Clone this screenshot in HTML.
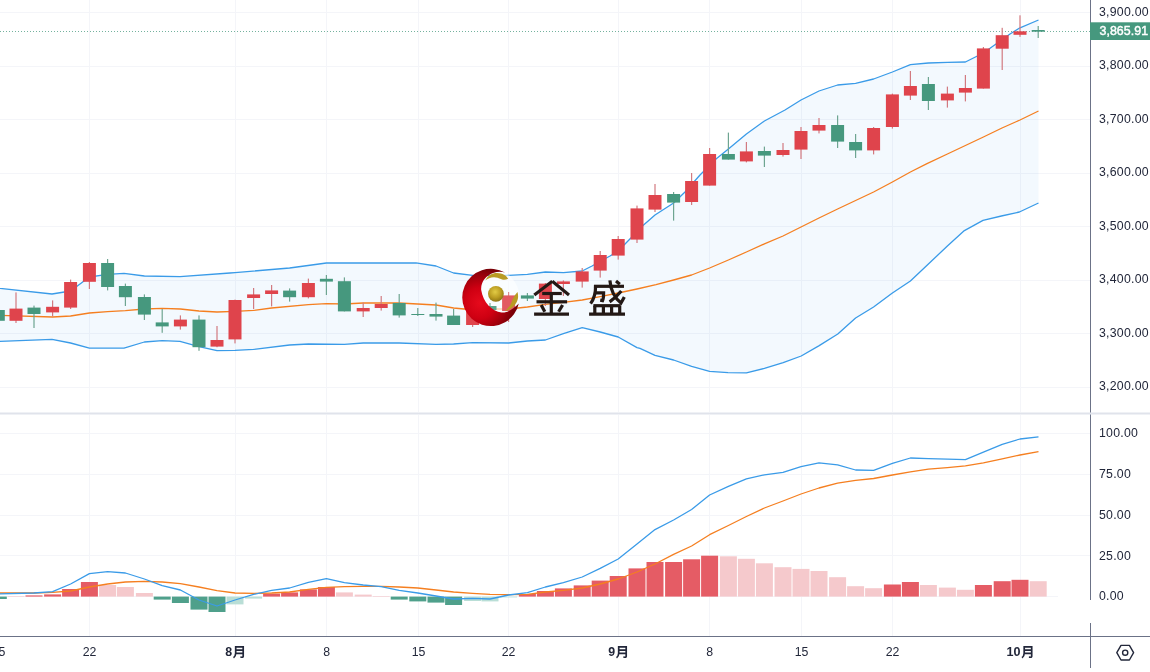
<!DOCTYPE html>
<html><head><meta charset="utf-8"><title>chart</title>
<style>
html,body{margin:0;padding:0;background:#fff}
body{width:1150px;height:672px;overflow:hidden;position:relative;font-family:"Liberation Sans",sans-serif}
svg{position:absolute;left:0;top:0;display:block;will-change:transform}
text{font-family:"Liberation Sans",sans-serif}
.t{}
</style></head><body>
<svg width="1150" height="672" viewBox="0 0 1150 672">
<rect width="1150" height="672" fill="#ffffff"/>

<g stroke="#f4f5f9" stroke-width="1" shape-rendering="crispEdges">
<line x1="0" y1="12.5" x2="1090" y2="12.5"/>
<line x1="0" y1="66.5" x2="1090" y2="66.5"/>
<line x1="0" y1="119.5" x2="1090" y2="119.5"/>
<line x1="0" y1="173.5" x2="1090" y2="173.5"/>
<line x1="0" y1="226.5" x2="1090" y2="226.5"/>
<line x1="0" y1="280.5" x2="1090" y2="280.5"/>
<line x1="0" y1="333.5" x2="1090" y2="333.5"/>
<line x1="0" y1="387.5" x2="1090" y2="387.5"/>
<line x1="0" y1="433.5" x2="1090" y2="433.5"/>
<line x1="0" y1="474.5" x2="1090" y2="474.5"/>
<line x1="0" y1="515.5" x2="1090" y2="515.5"/>
<line x1="0" y1="555.5" x2="1090" y2="555.5"/>
<line x1="0" y1="596.5" x2="1058" y2="596.5"/>
<line x1="89.5" y1="0" x2="89.5" y2="412"/><line x1="89.5" y1="415" x2="89.5" y2="636"/>
<line x1="235.5" y1="0" x2="235.5" y2="412"/><line x1="235.5" y1="415" x2="235.5" y2="636"/>
<line x1="326.5" y1="0" x2="326.5" y2="412"/><line x1="326.5" y1="415" x2="326.5" y2="636"/>
<line x1="418.5" y1="0" x2="418.5" y2="412"/><line x1="418.5" y1="415" x2="418.5" y2="636"/>
<line x1="508.5" y1="0" x2="508.5" y2="412"/><line x1="508.5" y1="415" x2="508.5" y2="636"/>
<line x1="618.5" y1="0" x2="618.5" y2="412"/><line x1="618.5" y1="415" x2="618.5" y2="636"/>
<line x1="709.5" y1="0" x2="709.5" y2="412"/><line x1="709.5" y1="415" x2="709.5" y2="636"/>
<line x1="801.5" y1="0" x2="801.5" y2="412"/><line x1="801.5" y1="415" x2="801.5" y2="636"/>
<line x1="892.5" y1="0" x2="892.5" y2="412"/><line x1="892.5" y1="415" x2="892.5" y2="636"/>
<line x1="1020.5" y1="0" x2="1020.5" y2="412"/><line x1="1020.5" y1="415" x2="1020.5" y2="636"/>
</g>
<polygon points="-2.0,288.0 0.0,288.4 52.0,294.0 70.6,291.0 89.4,277.0 107.6,274.4 124.0,273.4 144.4,276.0 180.0,276.6 230.0,273.0 235.0,272.6 289.6,268.0 326.4,263.0 416.0,262.8 436.0,266.0 453.6,273.0 472.6,275.4 508.6,275.4 527.4,274.4 545.4,272.0 563.4,272.6 582.2,271.0 592.0,266.0 610.0,256.0 618.2,251.0 626.0,243.0 643.0,225.6 655.0,215.0 673.6,203.0 685.0,192.0 700.0,175.0 716.0,159.0 728.4,149.0 746.4,134.0 764.4,121.0 785.0,110.0 801.0,100.0 819.0,91.0 837.6,85.0 855.6,83.4 873.6,79.0 892.4,72.0 910.4,64.6 928.4,63.0 947.4,62.4 965.4,62.0 983.4,53.0 996.0,44.0 1010.0,34.0 1020.0,27.8 1038.5,20.0 1038.5,203.0 1019.4,212.0 1001.4,216.0 983.0,220.4 964.4,230.6 947.4,246.0 928.4,264.0 910.4,281.0 892.4,293.0 873.6,307.0 855.6,318.0 837.8,334.0 819.2,345.6 801.2,356.0 783.2,362.6 764.4,368.4 746.4,372.8 728.0,372.6 709.6,371.4 691.6,366.4 673.6,360.0 655.0,355.4 640.0,348.4 637.0,347.6 618.2,337.0 600.2,332.0 582.2,327.6 563.4,333.6 545.4,340.0 527.4,341.0 508.6,343.0 472.6,342.6 453.6,344.0 436.0,344.4 399.2,343.0 363.2,343.0 344.4,344.4 308.4,344.0 289.6,345.0 253.6,349.4 235.0,350.4 217.0,350.6 199.0,346.6 180.0,341.4 162.2,340.6 144.4,342.0 124.0,348.2 89.4,348.2 70.6,343.0 52.0,339.4 0.0,341.4 -2.0,341.6" fill="#2196f3" fill-opacity="0.055"/>
<polyline points="-2.0,315.4 0.0,315.4 52.6,317.0 70.6,316.0 89.4,313.0 107.6,311.6 125.4,310.6 144.4,309.0 162.2,308.4 180.4,309.0 199.0,311.0 217.0,312.0 235.0,311.4 253.6,310.4 271.6,308.0 308.4,304.6 326.4,303.6 344.4,304.0 363.2,303.0 399.2,303.0 436.0,305.0 453.6,308.0 464.0,309.0 508.6,309.0 527.4,307.0 545.4,304.4 563.4,302.4 582.2,300.0 600.2,296.6 618.2,293.0 637.0,289.0 656.0,284.6 673.6,280.0 691.6,275.0 709.6,268.0 728.4,260.0 746.4,252.0 765.0,243.6 783.0,236.0 801.0,227.0 819.0,218.0 837.6,209.0 855.6,200.5 873.6,192.0 892.4,182.0 910.4,172.0 927.0,163.6 947.4,154.0 965.4,145.5 983.4,137.0 1002.0,128.0 1020.0,120.0 1038.5,111.0" fill="none" stroke="#f57f20" stroke-width="1.3" stroke-linejoin="round"/>
<polyline points="-2.0,288.0 0.0,288.4 52.0,294.0 70.6,291.0 89.4,277.0 107.6,274.4 124.0,273.4 144.4,276.0 180.0,276.6 230.0,273.0 235.0,272.6 289.6,268.0 326.4,263.0 416.0,262.8 436.0,266.0 453.6,273.0 472.6,275.4 508.6,275.4 527.4,274.4 545.4,272.0 563.4,272.6 582.2,271.0 592.0,266.0 610.0,256.0 618.2,251.0 626.0,243.0 643.0,225.6 655.0,215.0 673.6,203.0 685.0,192.0 700.0,175.0 716.0,159.0 728.4,149.0 746.4,134.0 764.4,121.0 785.0,110.0 801.0,100.0 819.0,91.0 837.6,85.0 855.6,83.4 873.6,79.0 892.4,72.0 910.4,64.6 928.4,63.0 947.4,62.4 965.4,62.0 983.4,53.0 996.0,44.0 1010.0,34.0 1020.0,27.8 1038.5,20.0" fill="none" stroke="#3a9be8" stroke-width="1.3" stroke-linejoin="round"/>
<polyline points="-2.0,341.6 0.0,341.4 52.0,339.4 70.6,343.0 89.4,348.2 124.0,348.2 144.4,342.0 162.2,340.6 180.0,341.4 199.0,346.6 217.0,350.6 235.0,350.4 253.6,349.4 289.6,345.0 308.4,344.0 344.4,344.4 363.2,343.0 399.2,343.0 436.0,344.4 453.6,344.0 472.6,342.6 508.6,343.0 527.4,341.0 545.4,340.0 563.4,333.6 582.2,327.6 600.2,332.0 618.2,337.0 637.0,347.6 640.0,348.4 655.0,355.4 673.6,360.0 691.6,366.4 709.6,371.4 728.0,372.6 746.4,372.8 764.4,368.4 783.2,362.6 801.2,356.0 819.2,345.6 837.8,334.0 855.6,318.0 873.6,307.0 892.4,293.0 910.4,281.0 928.4,264.0 947.4,246.0 964.4,230.6 983.0,220.4 1001.4,216.0 1019.4,212.0 1038.5,203.0" fill="none" stroke="#3a9be8" stroke-width="1.3" stroke-linejoin="round"/>
<line x1="0" y1="31.5" x2="1090" y2="31.5" stroke="#46987e" stroke-opacity="0.75" stroke-width="1" stroke-dasharray="1 2" shape-rendering="crispEdges"/>
<clipPath id="oc0"><circle cx="491" cy="297.6" r="28.6"/></clipPath><ellipse cx="502" cy="292" rx="21" ry="20.5" fill="#fff" fill-opacity="0.6" clip-path="url(#oc0)"/>
<g>
<rect x="-2.3" y="309.0" width="1.2" height="12.0" fill="#6ea591"/>
<rect x="-8.2" y="310.0" width="13" height="10.8" fill="#46987e"/>
<rect x="15.4" y="292.4" width="1.2" height="30.6" fill="#d27a80"/>
<rect x="9.5" y="308.6" width="13" height="12.2" fill="#df444c"/>
<rect x="33.4" y="305.6" width="1.2" height="22.4" fill="#6ea591"/>
<rect x="27.5" y="307.6" width="13" height="6.4" fill="#46987e"/>
<rect x="52.0" y="300.4" width="1.2" height="16.0" fill="#d27a80"/>
<rect x="46.1" y="306.8" width="13" height="5.6" fill="#df444c"/>
<rect x="70.0" y="279.6" width="1.2" height="29.4" fill="#d27a80"/>
<rect x="64.1" y="282.0" width="13" height="25.6" fill="#df444c"/>
<rect x="88.8" y="262.0" width="1.2" height="27.0" fill="#d27a80"/>
<rect x="82.9" y="263.0" width="13" height="18.8" fill="#df444c"/>
<rect x="107.0" y="259.0" width="1.2" height="31.4" fill="#6ea591"/>
<rect x="101.1" y="263.0" width="13" height="24.0" fill="#46987e"/>
<rect x="124.8" y="283.6" width="1.2" height="22.4" fill="#6ea591"/>
<rect x="118.9" y="286.0" width="13" height="11.2" fill="#46987e"/>
<rect x="143.8" y="294.4" width="1.2" height="25.6" fill="#6ea591"/>
<rect x="137.9" y="297.0" width="13" height="17.6" fill="#46987e"/>
<rect x="161.6" y="309.0" width="1.2" height="23.8" fill="#6ea591"/>
<rect x="155.7" y="322.4" width="13" height="4.0" fill="#46987e"/>
<rect x="179.8" y="315.4" width="1.2" height="14.2" fill="#d27a80"/>
<rect x="173.9" y="319.6" width="13" height="6.8" fill="#df444c"/>
<rect x="198.4" y="315.4" width="1.2" height="35.4" fill="#6ea591"/>
<rect x="192.5" y="319.6" width="13" height="27.6" fill="#46987e"/>
<rect x="216.4" y="326.0" width="1.2" height="21.2" fill="#d27a80"/>
<rect x="210.5" y="340.0" width="13" height="6.6" fill="#df444c"/>
<rect x="234.4" y="299.6" width="1.2" height="43.8" fill="#d27a80"/>
<rect x="228.5" y="300.0" width="13" height="39.4" fill="#df444c"/>
<rect x="253.0" y="288.0" width="1.2" height="21.0" fill="#d27a80"/>
<rect x="247.1" y="294.4" width="13" height="3.6" fill="#df444c"/>
<rect x="271.0" y="285.0" width="1.2" height="21.4" fill="#d27a80"/>
<rect x="265.1" y="290.4" width="13" height="3.6" fill="#df444c"/>
<rect x="289.0" y="288.4" width="1.2" height="13.2" fill="#6ea591"/>
<rect x="283.1" y="290.6" width="13" height="6.6" fill="#46987e"/>
<rect x="307.8" y="278.6" width="1.2" height="19.8" fill="#d27a80"/>
<rect x="301.9" y="283.0" width="13" height="14.2" fill="#df444c"/>
<rect x="325.8" y="275.0" width="1.2" height="20.0" fill="#6ea591"/>
<rect x="319.9" y="278.8" width="13" height="2.8" fill="#46987e"/>
<rect x="343.8" y="277.4" width="1.2" height="34.0" fill="#6ea591"/>
<rect x="337.9" y="281.2" width="13" height="30.2" fill="#46987e"/>
<rect x="362.6" y="302.6" width="1.2" height="14.4" fill="#d27a80"/>
<rect x="356.7" y="308.0" width="13" height="3.4" fill="#df444c"/>
<rect x="380.6" y="296.0" width="1.2" height="14.6" fill="#d27a80"/>
<rect x="374.7" y="304.0" width="13" height="4.0" fill="#df444c"/>
<rect x="398.6" y="294.0" width="1.2" height="23.6" fill="#6ea591"/>
<rect x="392.7" y="303.0" width="13" height="12.4" fill="#46987e"/>
<rect x="417.2" y="308.0" width="1.2" height="8.0" fill="#6ea591"/>
<rect x="411.3" y="314.0" width="13" height="1.0" fill="#46987e"/>
<rect x="435.4" y="302.6" width="1.2" height="18.0" fill="#6ea591"/>
<rect x="429.5" y="314.0" width="13" height="2.6" fill="#46987e"/>
<rect x="453.0" y="309.0" width="1.2" height="16.0" fill="#6ea591"/>
<rect x="447.1" y="315.6" width="13" height="9.4" fill="#46987e"/>
<rect x="472.0" y="305.0" width="1.2" height="22.0" fill="#d27a80"/>
<rect x="466.1" y="310.0" width="13" height="15.0" fill="#df444c"/>
<rect x="489.4" y="303.0" width="1.2" height="9.0" fill="#6ea591"/>
<rect x="483.5" y="306.0" width="13" height="4.0" fill="#46987e"/>
<rect x="508.0" y="292.0" width="1.2" height="30.0" fill="#d27a80"/>
<rect x="502.1" y="295.4" width="13" height="15.6" fill="#df444c"/>
<rect x="526.8" y="293.0" width="1.2" height="8.0" fill="#6ea591"/>
<rect x="520.9" y="295.4" width="13" height="3.2" fill="#46987e"/>
<rect x="544.8" y="283.0" width="1.2" height="23.0" fill="#d27a80"/>
<rect x="538.9" y="283.6" width="13" height="15.4" fill="#df444c"/>
<rect x="562.8" y="280.4" width="1.2" height="15.6" fill="#d27a80"/>
<rect x="556.9" y="281.4" width="13" height="2.6" fill="#df444c"/>
<rect x="581.6" y="268.0" width="1.2" height="19.6" fill="#d27a80"/>
<rect x="575.7" y="271.4" width="13" height="10.2" fill="#df444c"/>
<rect x="599.6" y="251.0" width="1.2" height="26.6" fill="#d27a80"/>
<rect x="593.7" y="255.0" width="13" height="15.6" fill="#df444c"/>
<rect x="617.6" y="236.0" width="1.2" height="23.6" fill="#d27a80"/>
<rect x="611.7" y="239.0" width="13" height="16.6" fill="#df444c"/>
<rect x="636.4" y="205.6" width="1.2" height="37.4" fill="#d27a80"/>
<rect x="630.5" y="208.4" width="13" height="31.2" fill="#df444c"/>
<rect x="654.4" y="184.0" width="1.2" height="28.0" fill="#d27a80"/>
<rect x="648.5" y="195.0" width="13" height="14.6" fill="#df444c"/>
<rect x="673.0" y="192.0" width="1.2" height="28.6" fill="#6ea591"/>
<rect x="667.1" y="194.0" width="13" height="8.6" fill="#46987e"/>
<rect x="691.0" y="173.0" width="1.2" height="32.0" fill="#d27a80"/>
<rect x="685.1" y="181.0" width="13" height="21.0" fill="#df444c"/>
<rect x="709.0" y="148.0" width="1.2" height="37.6" fill="#d27a80"/>
<rect x="703.1" y="154.0" width="13" height="31.6" fill="#df444c"/>
<rect x="727.8" y="132.6" width="1.2" height="27.0" fill="#6ea591"/>
<rect x="721.9" y="154.0" width="13" height="5.6" fill="#46987e"/>
<rect x="745.8" y="142.0" width="1.2" height="20.4" fill="#d27a80"/>
<rect x="739.9" y="151.4" width="13" height="10.0" fill="#df444c"/>
<rect x="763.8" y="146.6" width="1.2" height="20.4" fill="#6ea591"/>
<rect x="757.9" y="151.0" width="13" height="4.6" fill="#46987e"/>
<rect x="782.4" y="143.0" width="1.2" height="13.6" fill="#d27a80"/>
<rect x="776.5" y="150.0" width="13" height="5.0" fill="#df444c"/>
<rect x="800.4" y="127.0" width="1.2" height="32.0" fill="#d27a80"/>
<rect x="794.5" y="131.0" width="13" height="18.6" fill="#df444c"/>
<rect x="818.4" y="118.0" width="1.2" height="15.4" fill="#d27a80"/>
<rect x="812.5" y="125.0" width="13" height="5.6" fill="#df444c"/>
<rect x="837.0" y="115.4" width="1.2" height="32.6" fill="#6ea591"/>
<rect x="831.1" y="125.0" width="13" height="16.6" fill="#46987e"/>
<rect x="855.0" y="134.0" width="1.2" height="24.0" fill="#6ea591"/>
<rect x="849.1" y="142.0" width="13" height="8.4" fill="#46987e"/>
<rect x="873.0" y="127.0" width="1.2" height="27.4" fill="#d27a80"/>
<rect x="867.1" y="128.0" width="13" height="22.4" fill="#df444c"/>
<rect x="891.8" y="93.6" width="1.2" height="35.0" fill="#d27a80"/>
<rect x="885.9" y="94.4" width="13" height="32.6" fill="#df444c"/>
<rect x="909.8" y="71.0" width="1.2" height="29.0" fill="#d27a80"/>
<rect x="903.9" y="86.0" width="13" height="9.6" fill="#df444c"/>
<rect x="927.8" y="77.0" width="1.2" height="33.0" fill="#6ea591"/>
<rect x="921.9" y="84.0" width="13" height="17.0" fill="#46987e"/>
<rect x="946.8" y="86.6" width="1.2" height="21.0" fill="#d27a80"/>
<rect x="940.9" y="93.6" width="13" height="6.8" fill="#df444c"/>
<rect x="964.8" y="75.0" width="1.2" height="26.4" fill="#d27a80"/>
<rect x="958.9" y="88.0" width="13" height="4.6" fill="#df444c"/>
<rect x="982.8" y="47.0" width="1.2" height="41.6" fill="#d27a80"/>
<rect x="976.9" y="48.4" width="13" height="40.2" fill="#df444c"/>
<rect x="1001.6" y="27.8" width="1.2" height="42.2" fill="#d27a80"/>
<rect x="995.7" y="35.2" width="13" height="13.5" fill="#df444c"/>
<rect x="1019.4" y="15.3" width="1.2" height="21.6" fill="#d27a80"/>
<rect x="1013.5" y="31.3" width="13" height="3.5" fill="#df444c"/>
<rect x="1037.6" y="26.0" width="1.2" height="12.0" fill="#6ea591"/>
<rect x="1031.7" y="30.0" width="13" height="1.7" fill="#46987e"/>
</g>
<g>
<rect x="-10.2" y="596.6" width="17" height="2.4" fill="#4fa08b"/>
<rect x="7.5" y="596.0" width="17" height="0.6" fill="#f5c9cc"/>
<rect x="25.5" y="595.4" width="17" height="1.2" fill="#e55c65"/>
<rect x="44.1" y="594.4" width="17" height="2.2" fill="#e55c65"/>
<rect x="62.1" y="589.0" width="17" height="7.6" fill="#e55c65"/>
<rect x="80.9" y="582.0" width="17" height="14.6" fill="#e55c65"/>
<rect x="99.1" y="585.0" width="17" height="11.6" fill="#f5c9cc"/>
<rect x="116.9" y="587.0" width="17" height="9.6" fill="#f5c9cc"/>
<rect x="135.9" y="593.0" width="17" height="3.6" fill="#f5c9cc"/>
<rect x="153.7" y="596.6" width="17" height="3.0" fill="#4fa08b"/>
<rect x="171.9" y="596.6" width="17" height="6.4" fill="#4fa08b"/>
<rect x="190.5" y="596.6" width="17" height="13.0" fill="#4fa08b"/>
<rect x="208.5" y="596.6" width="17" height="15.4" fill="#4fa08b"/>
<rect x="226.5" y="596.6" width="17" height="7.8" fill="#b9ded6"/>
<rect x="245.1" y="596.6" width="17" height="2.0" fill="#b9ded6"/>
<rect x="263.1" y="593.6" width="17" height="3.0" fill="#e55c65"/>
<rect x="281.1" y="592.4" width="17" height="4.2" fill="#e55c65"/>
<rect x="299.9" y="589.4" width="17" height="7.2" fill="#e55c65"/>
<rect x="317.9" y="587.0" width="17" height="9.6" fill="#e55c65"/>
<rect x="335.9" y="592.4" width="17" height="4.2" fill="#f5c9cc"/>
<rect x="354.7" y="594.6" width="17" height="2.0" fill="#f5c9cc"/>
<rect x="372.7" y="596.0" width="17" height="0.6" fill="#f5c9cc"/>
<rect x="390.7" y="596.6" width="17" height="3.0" fill="#4fa08b"/>
<rect x="409.3" y="596.6" width="17" height="4.8" fill="#4fa08b"/>
<rect x="427.5" y="596.6" width="17" height="6.0" fill="#4fa08b"/>
<rect x="445.1" y="596.6" width="17" height="8.4" fill="#4fa08b"/>
<rect x="464.1" y="596.6" width="17" height="4.4" fill="#b9ded6"/>
<rect x="481.5" y="596.6" width="17" height="4.8" fill="#b9ded6"/>
<rect x="500.1" y="596.6" width="17" height="0.8" fill="#b9ded6"/>
<rect x="518.9" y="594.0" width="17" height="2.6" fill="#e55c65"/>
<rect x="536.9" y="591.0" width="17" height="5.6" fill="#e55c65"/>
<rect x="554.9" y="588.4" width="17" height="8.2" fill="#e55c65"/>
<rect x="573.7" y="585.4" width="17" height="11.2" fill="#e55c65"/>
<rect x="591.7" y="580.6" width="17" height="16.0" fill="#e55c65"/>
<rect x="609.7" y="576.0" width="17" height="20.6" fill="#e55c65"/>
<rect x="628.5" y="568.4" width="17" height="28.2" fill="#e55c65"/>
<rect x="646.5" y="562.0" width="17" height="34.6" fill="#e55c65"/>
<rect x="665.1" y="562.0" width="17" height="34.6" fill="#e55c65"/>
<rect x="683.1" y="559.3" width="17" height="37.3" fill="#e55c65"/>
<rect x="701.1" y="555.7" width="17" height="40.9" fill="#e55c65"/>
<rect x="719.9" y="556.3" width="17" height="40.3" fill="#f5c9cc"/>
<rect x="737.9" y="558.8" width="17" height="37.8" fill="#f5c9cc"/>
<rect x="755.9" y="563.3" width="17" height="33.3" fill="#f5c9cc"/>
<rect x="774.5" y="567.2" width="17" height="29.4" fill="#f5c9cc"/>
<rect x="792.5" y="568.9" width="17" height="27.7" fill="#f5c9cc"/>
<rect x="810.5" y="571.0" width="17" height="25.6" fill="#f5c9cc"/>
<rect x="829.1" y="577.2" width="17" height="19.4" fill="#f5c9cc"/>
<rect x="847.1" y="586.2" width="17" height="10.4" fill="#f5c9cc"/>
<rect x="865.1" y="588.2" width="17" height="8.4" fill="#f5c9cc"/>
<rect x="883.9" y="584.5" width="17" height="12.1" fill="#e55c65"/>
<rect x="901.9" y="582.0" width="17" height="14.6" fill="#e55c65"/>
<rect x="919.9" y="585.0" width="17" height="11.6" fill="#f5c9cc"/>
<rect x="938.9" y="587.6" width="17" height="9.0" fill="#f5c9cc"/>
<rect x="956.9" y="589.8" width="17" height="6.8" fill="#f5c9cc"/>
<rect x="974.9" y="585.0" width="17" height="11.6" fill="#e55c65"/>
<rect x="993.7" y="581.2" width="17" height="15.4" fill="#e55c65"/>
<rect x="1011.5" y="579.8" width="17" height="16.8" fill="#e55c65"/>
<rect x="1029.7" y="581.2" width="17" height="15.4" fill="#f5c9cc"/>
</g>
<polyline points="-2.0,593.0 34.0,593.0 52.6,592.4 70.6,591.0 89.4,587.0 107.6,584.0 125.4,582.0 144.4,581.4 162.2,582.0 180.4,583.6 199.0,587.0 217.0,590.6 235.0,593.0 253.6,593.4 271.6,593.0 289.6,592.0 308.4,589.4 326.4,587.4 344.4,586.6 363.2,586.4 381.2,586.4 399.2,587.0 417.8,588.0 436.0,590.0 453.6,592.0 472.6,593.4 490.0,594.4 508.6,594.6 527.4,594.4 545.4,592.0 563.4,590.4 582.2,588.0 600.2,584.0 618.2,579.0 637.0,572.0 655.0,564.0 673.6,554.3 691.6,546.0 709.6,534.7 728.4,525.5 746.4,516.5 764.4,508.0 783.0,501.0 801.0,494.0 819.0,488.0 837.6,483.2 855.6,480.4 873.6,478.5 892.4,475.0 910.4,471.8 928.4,469.2 947.4,467.6 965.4,465.9 983.4,462.8 1002.2,458.9 1020.0,455.0 1038.5,451.6" fill="none" stroke="#f57f20" stroke-width="1.3" stroke-linejoin="round"/>
<polyline points="-2.0,594.0 34.0,593.0 52.6,591.6 70.6,584.0 89.4,573.6 107.6,571.6 125.4,573.0 144.4,579.0 162.2,585.6 180.4,590.0 199.0,600.0 217.0,606.0 235.0,600.0 253.6,594.4 271.6,590.4 289.6,588.0 308.4,582.4 326.4,578.6 344.4,582.6 363.2,585.0 381.2,586.6 399.2,590.4 417.8,593.0 436.0,596.0 453.6,599.0 472.6,598.4 490.0,599.0 508.6,595.0 527.4,592.6 545.4,587.0 563.4,582.6 582.2,577.0 600.2,568.4 618.2,559.0 637.0,544.0 655.0,529.6 673.6,520.0 691.6,509.5 709.6,495.0 728.4,486.3 746.4,478.8 764.4,474.8 783.0,472.3 801.0,466.7 819.0,462.8 837.6,464.8 855.6,470.0 873.6,470.4 892.4,463.4 910.4,458.0 928.4,458.6 947.4,459.2 965.4,459.7 983.4,452.2 1002.2,444.3 1020.0,439.0 1038.5,436.8" fill="none" stroke="#3a9be8" stroke-width="1.3" stroke-linejoin="round"/>
<rect x="1058" y="597.5" width="32" height="26" fill="#fff"/>
<rect x="0" y="412.5" width="1150" height="2" fill="#e0e3eb"/>
<g fill="#6b7287">
<rect x="1090" y="0" width="1" height="412.5"/><rect x="1090" y="414.5" width="1" height="185.5"/><rect x="1090" y="623" width="1" height="45"/>
<rect x="0" y="636" width="1150" height="1"/>
</g>
<rect x="1090" y="22.3" width="60" height="17.7" fill="#46987e"/>
<g class="t" font-size="12.3" fill="#22273a" letter-spacing="0.25">
<text x="1099" y="16.4">3,900.00</text>
<text x="1099" y="69.4">3,800.00</text>
<text x="1099" y="123.4">3,700.00</text>
<text x="1099" y="176.4">3,600.00</text>
<text x="1099" y="230.4">3,500.00</text>
<text x="1099" y="283.4">3,400.00</text>
<text x="1099" y="337.4">3,300.00</text>
<text x="1099" y="390.4">3,200.00</text>
<text x="1099" y="437.4">100.00</text>
<text x="1099" y="478.4">75.00</text>
<text x="1099" y="519.4">50.00</text>
<text x="1099" y="560.4">25.00</text>
<text x="1099" y="600.4">0.00</text>
</g>
<text class="t" x="1099.5" y="35.4" font-size="12.4" fill="#fff" stroke="#fff" stroke-width="0.45" letter-spacing="0.05">3,865.91</text>
<g class="t" font-size="12.3" fill="#22273a" text-anchor="middle">
<text x="-1.4" y="656.4">15</text>
<text x="89.6" y="656.4">22</text>
<text x="326.6" y="656.4">8</text>
<text x="418.6" y="656.4">15</text>
<text x="508.6" y="656.4">22</text>
<text x="709.6" y="656.4">8</text>
<text x="801.6" y="656.4">15</text>
<text x="892.6" y="656.4">22</text>
</g>
<g class="t" font-size="13.2" font-weight="bold" fill="#22273a">
<text x="225.2" y="656.1" textLength="6.9" lengthAdjust="spacingAndGlyphs">8</text><g transform="translate(233,645.8) scale(1)" fill="none" stroke="#22273a" stroke-width="1.7" stroke-linecap="butt" stroke-linejoin="miter"><path d="M2.7 1.8 V7.4 Q2.6 10.4 0.5 11.9 M1.85 1 H10.2 V10.4 Q10.2 11.5 8.9 11.45 L7.4 11.4 M2.8 4.4 H10 M2.8 7.6 H10"/></g>
<text x="608.2" y="656.1" textLength="6.9" lengthAdjust="spacingAndGlyphs">9</text><g transform="translate(616,645.8) scale(1)" fill="none" stroke="#22273a" stroke-width="1.7" stroke-linecap="butt" stroke-linejoin="miter"><path d="M2.7 1.8 V7.4 Q2.6 10.4 0.5 11.9 M1.85 1 H10.2 V10.4 Q10.2 11.5 8.9 11.45 L7.4 11.4 M2.8 4.4 H10 M2.8 7.6 H10"/></g>
<text x="1006.5" y="656.1" textLength="14" lengthAdjust="spacingAndGlyphs">10</text><g transform="translate(1021.5,645.8) scale(1)" fill="none" stroke="#22273a" stroke-width="1.7" stroke-linecap="butt" stroke-linejoin="miter"><path d="M2.7 1.8 V7.4 Q2.6 10.4 0.5 11.9 M1.85 1 H10.2 V10.4 Q10.2 11.5 8.9 11.45 L7.4 11.4 M2.8 4.4 H10 M2.8 7.6 H10"/></g>
</g>
<g fill="none" stroke="#22273a" stroke-width="1.4" stroke-linejoin="round"><path d="M1116.8 652.7 L1121 645.4 H1129.4 L1133.6 652.7 L1129.4 660 H1121 Z"/><circle cx="1125.2" cy="652.7" r="2.6"/></g>
<defs>
<radialGradient id="rg" gradientUnits="userSpaceOnUse" cx="480" cy="303" r="34"><stop offset="0" stop-color="#e60a1c"/><stop offset="0.45" stop-color="#cf0012"/><stop offset="0.8" stop-color="#9d000b"/><stop offset="1" stop-color="#7a0007"/></radialGradient>
<radialGradient id="gg" cx="0.45" cy="0.38" r="0.62"><stop offset="0" stop-color="#e2cb45"/><stop offset="0.6" stop-color="#bb9d22"/><stop offset="1" stop-color="#8f7614"/></radialGradient>
<clipPath id="oc"><circle cx="491" cy="297.6" r="28.6"/></clipPath>
</defs>
<ellipse cx="502" cy="292" rx="21" ry="20.5" fill="#fff" fill-opacity="0.12" clip-path="url(#oc)"/>
<path d="M505 272.6 A28.6 28.6 0 1 0 518.8 303.5 C513 309.5 507 313 501.5 312.5 C492 311.5 483 302 481.2 290 C480.5 282 486 275.5 493 273 C497.5 271.5 502 271.6 505 272.6 Z" fill="url(#rg)"/>
<circle cx="495.9" cy="293.8" r="7.9" fill="url(#gg)"/>
<path d="M485.2 280.4 C488 275 492.5 272.8 497 272.9 C502.5 273 506.5 275.5 508.2 278.8 C505.5 280.2 503.5 280 501.5 279.3 C498.5 278 496.5 277.3 494 277.3 C490.5 277.4 487.5 278.8 485.2 280.4 Z" fill="#b99b23"/>
<path d="M517.5 292 C518.6 296 518.2 299.5 516.5 302.4 C514.2 306.5 510 309.8 505 311.2 C507.5 309 509.6 306.5 511 303.5 C512.6 300 513.2 296.5 517.5 292 Z" fill="#b99b23"/>

<g fill="none" stroke="#231815" stroke-width="3.2" stroke-linecap="butt" stroke-linejoin="miter">
<path d="M552.3 281.2 L534.3 295"/><path d="M552.3 281.2 L569 295"/>
<path d="M542.2 293.5 H561.8"/><path d="M536.5 301.8 H567.1"/><path d="M551.3 293.5 V314"/>
<path d="M541.2 305 L544.8 311.8"/><path d="M562.6 305 L558.6 311.8"/><path d="M534.1 314.1 H569"/>
<path d="M593.9 286.3 H624"/><path d="M595.6 286.3 Q595.6 297 590.6 303.6"/>
<path d="M595.8 292.8 H603.6 Q603.6 298.5 602.6 300.6 L600.2 300.2"/>
<path d="M609.9 280.4 Q611 295 621 303 Q623 299.5 624.3 297"/>
<path d="M621.3 291 Q616 297.5 609.6 301.8"/><path d="M616 281 L619.8 284.2"/>
<path d="M593.4 305.7 H620.7"/><path d="M594.8 305.7 V314"/><path d="M603.4 305.7 V314"/><path d="M611.6 305.7 V314"/><path d="M619.7 305.7 V314"/>
<path d="M589.1 314.1 H625"/>
</g>
</svg></body></html>
